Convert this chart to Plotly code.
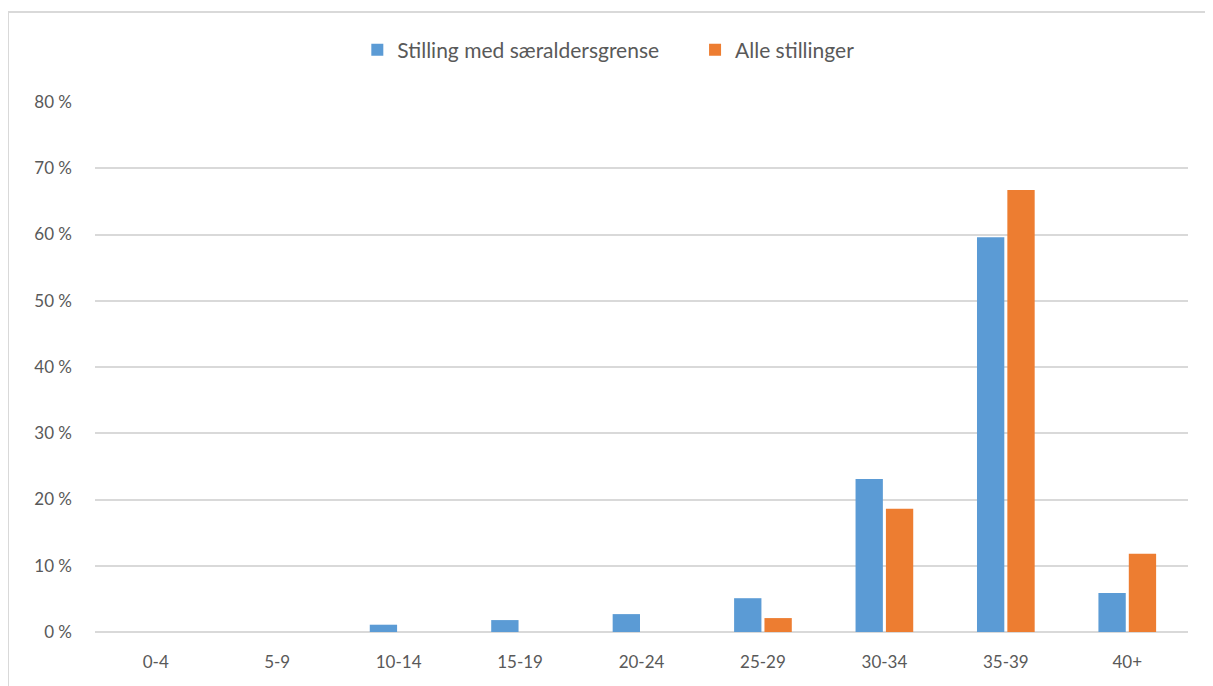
import plotly.graph_objects as go

categories = ["0-4", "5-9", "10-14", "15-19", "20-24", "25-29", "30-34", "35-39", "40+"]
series_names = ["Stilling med særaldersgrense", "Alle stillinger"]
saeralder = [0.0, 0.0, 1.1, 1.8, 2.7, 5.1, 23.1, 59.6, 5.9]
alle = [0.0, 0.0, 0.0, 0.0, 0.0, 2.1, 18.6, 66.7, 11.8]
ytick_vals = [0, 10, 20, 30, 40, 50, 60, 70, 80]
ytick_text = [f"{v} %" for v in ytick_vals]

colors = ["#5B9BD5", "#ED7D31"]
legend_ids = ["legend", "legend2"]
font_family = "Lato, 'Open Sans', sans-serif"

fig = go.Figure()
for name, vals, col, lg in zip(series_names, [saeralder, alle], colors, legend_ids):
    fig.add_trace(go.Bar(
        x=categories, y=vals, name=name, legend=lg,
        marker=dict(color=col, line=dict(width=0)),
    ))

legend_common = dict(orientation="h", xanchor="left", y=1.098, yanchor="middle",
                     font=dict(size=21, color="#595959"), itemwidth=30,
                     bgcolor="rgba(0,0,0,0)")

fig.update_layout(
    width=1205, height=678,
    margin=dict(l=87, r=25, t=94, b=54),
    paper_bgcolor="white", plot_bgcolor="white",
    barmode="group", bargap=0.5, bargroupgap=0.1,
    font=dict(family=font_family, size=17, color="#595959"),
    showlegend=True,
    legend=dict(x=0.240, **legend_common),
    legend2=dict(x=0.549, **legend_common),
    xaxis=dict(showgrid=False, showline=False, ticks="", ticklabelstandoff=18,
               tickfont=dict(size=17, color="#595959")),
    yaxis=dict(range=[0, 80], tickvals=ytick_vals, ticktext=ytick_text,
               showgrid=True, gridcolor="#D9D9D9", gridwidth=1.5,
               zeroline=True, zerolinecolor="#D9D9D9", zerolinewidth=1.5,
               showline=False, ticks="", ticklabelstandoff=22,
               tickfont=dict(size=17, color="#595959")),
    shapes=[dict(type="rect", xref="paper", yref="paper",
                 x0=-0.0796, x1=1.05, y0=-0.2, y1=1.17,
                 line=dict(color="#D9D9D9", width=2), fillcolor="rgba(0,0,0,0)",
                 layer="below")],
)

fig.write_html("out.html")
